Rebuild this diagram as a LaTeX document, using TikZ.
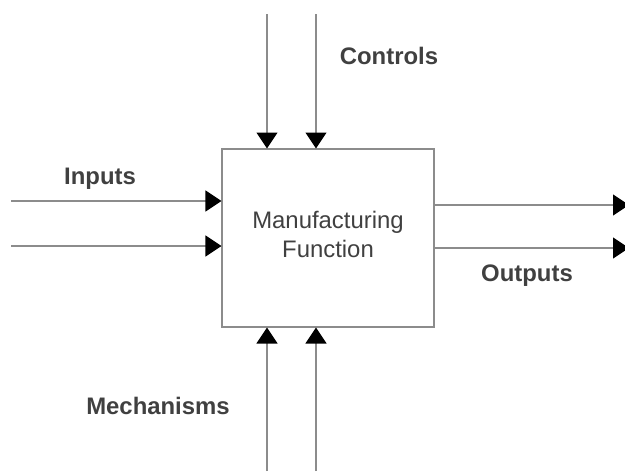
\documentclass[tikz,border=0pt]{standalone}
\usepackage{fontspec}
\setmainfont{Liberation Sans}
\usetikzlibrary{arrows.meta}
\definecolor{linegray}{HTML}{8C8C8C}
\definecolor{textgray}{HTML}{404040}

\begin{document}
\begin{tikzpicture}
    [x=0.02cm,y=-0.02cm,every node/.style={text=textgray,font=\fontsize{13.6}{16.5}\selectfont},
     flow/.style={draw=linegray,line width=0.6pt,-{Triangle[width=0.42cm,length=0.32cm,color=black]}},
     lbl/.style={font=\fontsize{13.6}{16.5}\selectfont\bfseries}]
      \useasboundingbox (0,0) rectangle (625,471);

      \node (f)[draw=linegray,line width=0.6pt,minimum width=4.24cm,minimum height=3.56cm,align=center,text depth=0.16cm] at (328,238) {Manufacturing\\Function};

      \coordinate (c1) at (267,14);
      \coordinate (c2) at (316,14);
      \coordinate (i1) at (11,201);
      \coordinate (i2) at (11,246);
      \coordinate (o1) at (629,205);
      \coordinate (o2) at (629,248);
      \coordinate (m1) at (267,471);
      \coordinate (m2) at (316,471);

      \foreach \from in {c1,c2}
	\draw[flow] (\from) -- (\from |- f.north);
      \foreach \from in {m1,m2}
	\draw[flow] (\from) -- (\from |- f.south);
      \foreach \from in {i1,i2}
	\draw[flow] (\from) -- (\from -| f.west);
      \foreach \to in {o1,o2}
	\draw[flow] (\to -| f.east) -- (\to);

      \node (ctl)[lbl] at (389,56)  {Controls};
      \node (inp)[lbl] at (100,179) {Inputs};
      \node (out)[lbl] at (527,276) {Outputs};
      \node (mec)[lbl] at (158,406) {Mechanisms};
\end{tikzpicture}
\end{document}
